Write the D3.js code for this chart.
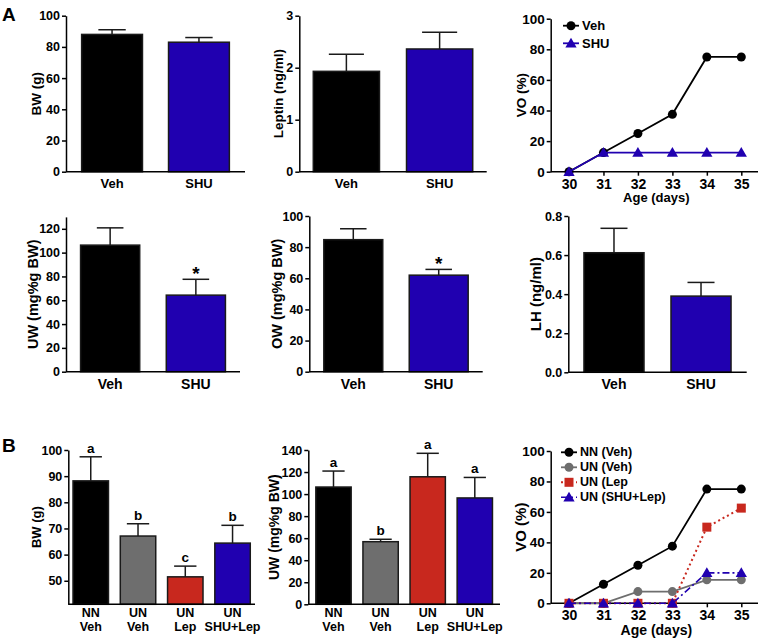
<!DOCTYPE html>
<html><head><meta charset="utf-8">
<script src="https://cdn.jsdelivr.net/npm/d3@7/dist/d3.min.js"></script>
<style>
body{margin:0;background:#fff;}
text{font-family:"Liberation Sans",Arial,Helvetica,sans-serif;font-weight:bold;fill:#000;}
</style></head>
<body>
<svg id="fig" width="761" height="641"></svg>
<script>
// ---------- DATA ----------
const catsA = ["Veh", "SHU"];
const bwA = [88, 83];
const bwAErr = [3, 3];
const leptinA = [1.93, 2.36];
const leptinAErr = [0.33, 0.32];
const uwA = [106.3, 64.3];
const uwAErr = [14.5, 13.3];
const owA = [84.8, 62];
const owAErr = [7, 3.7];
const lhA = [0.612, 0.39];
const lhAErr = [0.125, 0.07];
const starsA = ["", "*"];

const days = [30, 31, 32, 33, 34, 35];
const voVehA = [0, 12.5, 25, 37.5, 75, 75];
const voShuA = [0, 12.5, 12.5, 12.5, 12.5, 12.5];
const seriesNamesA = ["Veh", "SHU"];

const catsB = [["NN", "Veh"], ["UN", "Veh"], ["UN", "Lep"], ["UN", "SHU+Lep"]];
const bwB = [88.2, 67.1, 51.5, 64.4];
const bwBErr = [9.2, 4.7, 4.1, 6.8];
const bwBLetters = ["a", "b", "c", "b"];
const uwB = [106.4, 56.8, 115.7, 96.5];
const uwBErr = [14.5, 2.2, 21.3, 18.6];
const uwBLetters = ["a", "b", "a", "a"];

const voNN = [0, 12.5, 25, 37.5, 75, 75];
const voUNVeh = [0, 0, 7.7, 7.7, 15.4, 15.4];
const voUNLep = [0, 0, 0, 0, 50, 62.5];
const voUNShuLep = [0, 0, 0, 0, 20, 20];
const seriesNamesB = ["NN (Veh)", "UN (Veh)", "UN (Lep", "UN (SHU+Lep)"];

// ---------- STYLE ----------
const BLACK = "#000000", BLUE = "#2000b0", RED = "#c8281e", GRAY = "#6e6e6e";
const svg = d3.select("#fig");

function styleAxis(g, fs) {
  g.select(".domain").attr("stroke", "#000").attr("stroke-width", 1.5);
  g.selectAll(".tick line").attr("stroke", "#000").attr("stroke-width", 1.5);
  g.selectAll(".tick text").attr("font-size", fs).attr("font-weight", "bold")
    .attr("font-family", '"Liberation Sans",Arial,sans-serif').attr("fill", "#000");
}

function yLabel(text, x, y0, y1, fs) {
  svg.append("text").attr("transform", `translate(${x},${(y0 + y1) / 2}) rotate(-90)`)
    .attr("text-anchor", "middle").attr("dominant-baseline", "central")
    .attr("font-size", fs || 13).text(text);
}

function barChart(o) {
  const y = d3.scaleLinear().domain(o.domain).range([o.y0, o.y1]);
  const x = d3.scaleBand().domain(d3.range(o.values.length)).range([o.x0, o.x1])
    .paddingInner(o.pi).paddingOuter(o.po);
  const g = svg.append("g");
  g.selectAll("rect.bar").data(o.values).join("rect")
    .attr("x", (d, i) => x(i)).attr("width", x.bandwidth())
    .attr("y", d => y(d)).attr("height", d => o.y0 - y(d))
    .attr("fill", (d, i) => o.colors[i]).attr("stroke", "#1a1a1a").attr("stroke-width", 1.5);
  const cw = x.bandwidth() * o.cap;
  o.values.forEach((v, i) => {
    const cx = x(i) + x.bandwidth() / 2;
    const top = y(v + o.errs[i]);
    g.append("line").attr("x1", cx).attr("x2", cx).attr("y1", y(v)).attr("y2", top)
      .attr("stroke", "#1a1a1a").attr("stroke-width", 1.5);
    g.append("line").attr("x1", cx - cw / 2).attr("x2", cx + cw / 2).attr("y1", top).attr("y2", top)
      .attr("stroke", "#1a1a1a").attr("stroke-width", 1.5);
    if (o.marks && o.marks[i]) {
      g.append("text").attr("x", cx).attr("y", top - (o.markIsStar ? -1 : 4))
        .attr("text-anchor", "middle").attr("font-size", o.markIsStar ? 19 : 13.5)
        .text(o.marks[i]);
    }
  });
  const ya = g.append("g").attr("transform", `translate(${o.x0},0)`)
    .call(d3.axisLeft(y).tickValues(o.ticks).tickSize(4).tickSizeOuter(0).tickPadding(2)
      .tickFormat(o.fmt || d3.format("d")));
  styleAxis(ya, 12.5);
  g.append("line").attr("x1", o.x0).attr("x2", o.x1).attr("y1", o.y0).attr("y2", o.y0)
    .attr("stroke", "#000").attr("stroke-width", 1.5);
  o.cats.forEach((c, i) => {
    const cx = x(i) + x.bandwidth() / 2;
    const lines = Array.isArray(c) ? c : [c];
    lines.forEach((t, j) => {
      g.append("text").attr("x", cx).attr("y", o.y0 + o.labOff + j * 14)
        .attr("text-anchor", "middle").attr("dominant-baseline", "central")
        .attr("font-size", o.catFs || 12.5).text(t);
    });
  });
  yLabel(o.label, o.labX, o.y0, o.y1, o.labFs);
}

function lineChart(o) {
  const y = d3.scaleLinear().domain([0, 100]).range([o.y0, o.y1]);
  const x = d3.scaleLinear().domain([30, 35]).range([o.xa, o.xb]);
  const g = svg.append("g");
  const ya = g.append("g").attr("transform", `translate(${o.x0},0)`)
    .call(d3.axisLeft(y).tickValues([0, 20, 40, 60, 80, 100]).tickSize(4).tickSizeOuter(0).tickPadding(2));
  styleAxis(ya, 13.5);
  const xa = g.append("g").attr("transform", `translate(0,${o.y0})`)
    .call(d3.axisBottom(x).tickValues(days).tickSize(4).tickSizeOuter(0).tickPadding(3).tickFormat(d3.format("d")));
  xa.select(".domain").remove();
  styleAxis(xa, 14);
  g.append("line").attr("x1", o.x0).attr("x2", o.x1).attr("y1", o.y0).attr("y2", o.y0)
    .attr("stroke", "#000").attr("stroke-width", 1.5);
  g.append("text").attr("x", (o.x0 + o.x1) / 2 + 2).attr("y", o.y0 + o.ageOff)
    .attr("text-anchor", "middle").attr("dominant-baseline", "central").attr("font-size", o.ageFs || 13)
    .text("Age (days)");
  yLabel("VO (%)", o.labX, o.y0, o.y1, o.labFs);

  const line = d3.line().x((d, i) => x(days[i])).y(d => y(d));
  function marker(sel, shape, color, cx, cy) {
    if (shape === "circle") sel.append("circle").attr("cx", cx).attr("cy", cy).attr("r", 4.5).attr("fill", color);
    else if (shape === "square") sel.append("rect").attr("x", cx - 4.5).attr("y", cy - 4.5).attr("width", 9).attr("height", 9).attr("fill", color);
    else sel.append("path").attr("d", d3.symbol(d3.symbolTriangle, 55)()).attr("transform", `translate(${cx},${cy + 1})`).attr("fill", color);
  }
  o.series.forEach(s => {
    g.append("path").datum(s.values).attr("d", line).attr("fill", "none")
      .attr("stroke", s.color).attr("stroke-width", s.w || 1.8)
      .attr("stroke-dasharray", s.dash || null);
    s.values.forEach((v, i) => marker(g, s.shape, s.color, x(days[i]), y(v)));
  });
  o.series.forEach((s, i) => {
    const ly = o.legY + i * o.legStep;
    g.append("line").attr("x1", o.legX - 8).attr("x2", o.legX + 8).attr("y1", ly).attr("y2", ly)
      .attr("stroke", s.color).attr("stroke-width", s.w || 1.8).attr("stroke-dasharray", s.dash || null);
    marker(g, s.shape, s.color, o.legX, ly);
    g.append("text").attr("x", o.legX + 11).attr("y", ly).attr("dominant-baseline", "central")
      .attr("font-size", o.legFs || 12.5).text(s.name);
  });
}

// ---------- PANEL LABELS ----------
svg.append("text").attr("x", 2).attr("y", 21).attr("font-size", 19).text("A");
svg.append("text").attr("x", 2).attr("y", 452).attr("font-size", 19).text("B");

// ---------- PANEL A ----------
barChart({ values: bwA, errs: bwAErr, cats: catsA, colors: [BLACK, BLUE], domain: [0, 100],
  ticks: [0, 20, 40, 60, 80, 100], x0: 66, x1: 245, y0: 171.7, y1: 15.7, pi: 0.3, po: 0.18, cap: 0.45,
  label: "BW (g)", labX: 36, labOff: 12, labFs: 13.5, catFs: 13 });
barChart({ values: leptinA, errs: leptinAErr, cats: catsA, colors: [BLACK, BLUE], domain: [0, 3],
  ticks: [0, 1, 2, 3], x0: 299.3, x1: 486.7, y0: 171.7, y1: 15.7, pi: 0.29, po: 0.15, cap: 0.53,
  label: "Leptin (ng/ml)", labX: 278, labOff: 12, labFs: 13.5, catFs: 13 });
lineChart({ x0: 550.7, x1: 758, xa: 569, xb: 741.3, y0: 171.7, y1: 18.7, labX: 521.7, ageOff: 26,
  legX: 571, legY: 25.7, legStep: 17.6, labFs: 13.5, legFs: 13,
  series: [
    { name: seriesNamesA[0], values: voVehA, color: BLACK, shape: "circle" },
    { name: seriesNamesA[1], values: voShuA, color: BLUE, shape: "triangle" }
  ] });

barChart({ values: uwA, errs: uwAErr, cats: catsA, colors: [BLACK, BLUE], domain: [0, 130],
  ticks: [0, 20, 40, 60, 80, 100, 120], x0: 66, x1: 240, y0: 371.7, y1: 216.9, pi: 0.31, po: 0.17, cap: 0.45,
  label: "UW (mg%g BW)", labX: 32.5, labOff: 12, labFs: 14.5, catFs: 14, marks: starsA, markIsStar: true });
barChart({ values: owA, errs: owAErr, cats: catsA, colors: [BLACK, BLUE], domain: [0, 100],
  ticks: [0, 20, 40, 60, 80, 100], x0: 309.3, x1: 482.7, y0: 371.7, y1: 216, pi: 0.31, po: 0.17, cap: 0.45,
  label: "OW (mg%g BW)", labX: 277, labOff: 12, labFs: 14.5, catFs: 14, marks: starsA, markIsStar: true });
barChart({ values: lhA, errs: lhAErr, cats: catsA, colors: [BLACK, BLUE], domain: [0, 0.8],
  ticks: [0, 0.2, 0.4, 0.6, 0.8], fmt: d3.format(".1f"), x0: 568.3, x1: 746.7, y0: 372.3, y1: 216,
  pi: 0.31, po: 0.18, cap: 0.45, label: "LH (ng/ml)", labX: 535.5, labOff: 12, labFs: 15, catFs: 14 });

// ---------- PANEL B ----------
const colorsB = [BLACK, GRAY, RED, BLUE];
barChart({ values: bwB, errs: bwBErr, cats: catsB, colors: colorsB, domain: [41, 100],
  ticks: [50, 60, 70, 80, 90, 100], x0: 68.3, x1: 255, y0: 604.3, y1: 450, pi: 0.25, po: 0.1, cap: 0.63,
  label: "BW (g)", labX: 36.7, labOff: 9, labFs: 13, catFs: 12.5, marks: bwBLetters });
barChart({ values: uwB, errs: uwBErr, cats: catsB, colors: colorsB, domain: [0, 140],
  ticks: [0, 20, 40, 60, 80, 100, 120, 140], x0: 308.3, x1: 500, y0: 604.3, y1: 450, pi: 0.25, po: 0.16, cap: 0.63,
  label: "UW (mg%g BW)", labX: 274, labOff: 9, labFs: 14, catFs: 12.5, marks: uwBLetters });
lineChart({ x0: 550.7, x1: 758, xa: 569, xb: 741.3, y0: 603.3, y1: 451, labX: 520.5, ageOff: 27,
  legX: 569, legY: 452.3, legStep: 15, labFs: 15, legFs: 12.5, ageFs: 14,
  series: [
    { name: seriesNamesB[0], values: voNN, color: BLACK, shape: "circle" },
    { name: seriesNamesB[1], values: voUNVeh, color: GRAY, shape: "circle" },
    { name: seriesNamesB[2], values: voUNLep, color: RED, shape: "square", dash: "2,3", w: 2 },
    { name: seriesNamesB[3], values: voUNShuLep, color: BLUE, shape: "triangle", dash: "7,3,2,3", w: 1.6 }
  ] });
</script>
</body></html>
